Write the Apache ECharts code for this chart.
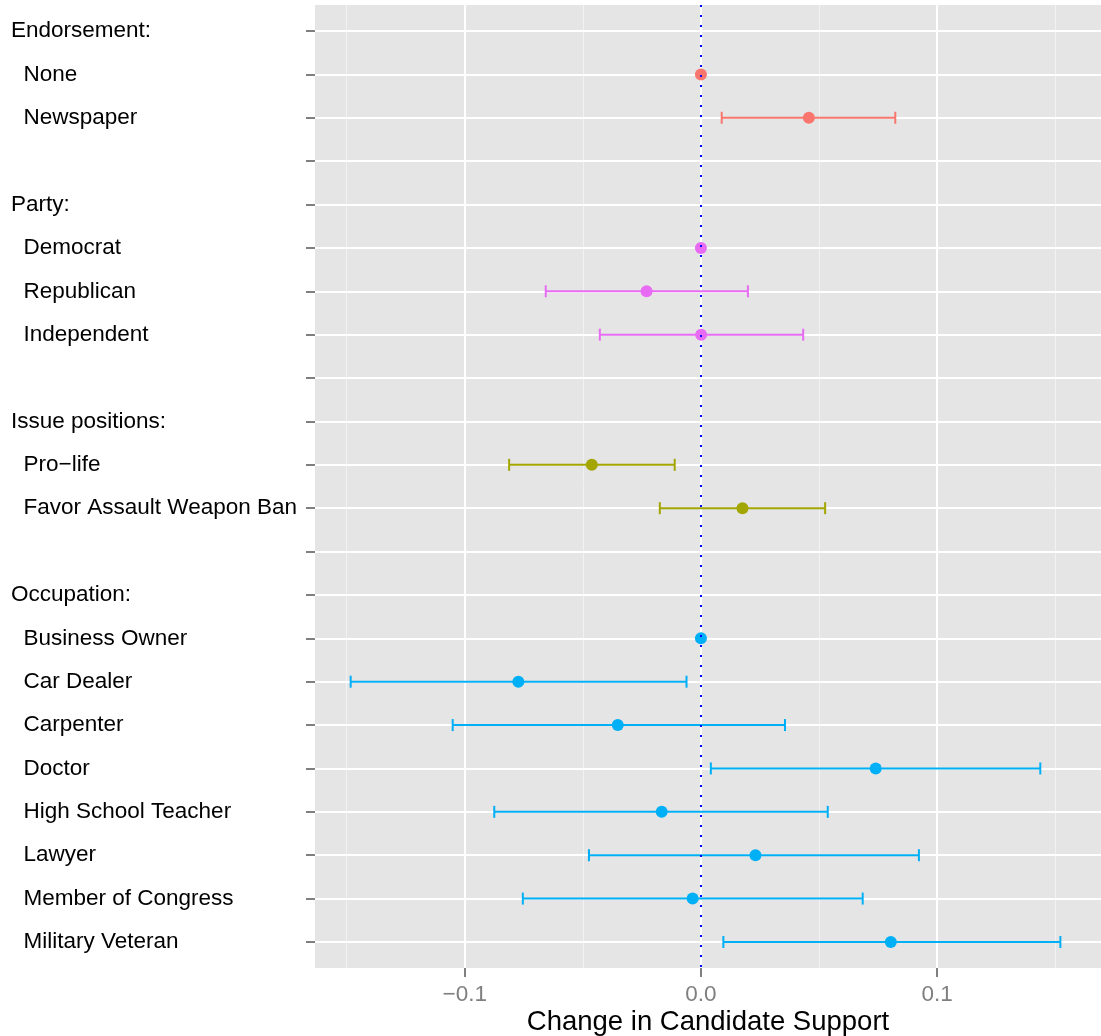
<!DOCTYPE html>
<html>
<head>
<meta charset="utf-8">
<script src="https://cdn.jsdelivr.net/npm/echarts@6/dist/echarts.min.js"></script>
<style>
html,body{margin:0;padding:0;background:#fff;}
#chart{width:1101px;height:1036px;}
</style>
</head>
<body>
<div id="chart"></div>
<script>
// ---- data ----
const categories = ["Endorsement:", "  None", "  Newspaper", "", "Party:", "  Democrat", "  Republican", "  Independent", "", "Issue positions:", "  Pro\u2212life", "  Favor Assault Weapon Ban", "", "Occupation:", "  Business Owner", "  Car Dealer", "  Carpenter", "  Doctor", "  High School Teacher", "  Lawyer", "  Member of Congress", "  Military Veteran"];
const estimate = [null, 0, 0.0457, null, null, 0, -0.0230, 0.0001, null, null, -0.0462, 0.0176, null, null, 0, -0.0773, -0.0352, 0.0740, -0.0166, 0.0231, -0.0035, 0.0804];
const lower = [null, null, 0.0088, null, null, null, -0.0657, -0.0428, null, null, -0.0812, -0.0174, null, null, null, -0.1483, -0.1051, 0.0042, -0.0875, -0.0474, -0.0754, 0.0095];
const upper = [null, null, 0.0823, null, null, null, 0.0199, 0.0433, null, null, -0.0111, 0.0526, null, null, null, -0.0061, 0.0356, 0.1437, 0.0537, 0.0923, 0.0685, 0.1522];
const group = [0,0,0,0,1,1,1,1,1,2,2,2,2,3,3,3,3,3,3,3,3,3];
const xTicks = [-0.1, 0, 0.1];
const xMinor = [-0.15, -0.05, 0.05, 0.15];

const groupColors = ['#F8766D', '#E76BF3', '#A3A500', '#00B0F6'];
const FONT = 'Liberation Sans, Arial, Helvetica, sans-serif';

const rowIdx = categories.map((_, i) => i);

const pointData = [];
const barData = [];
estimate.forEach((v, i) => {
  if (v === null) return;
  pointData.push({ value: [v, i], itemStyle: { color: groupColors[group[i]], opacity: 1 } });
  if (lower[i] !== null) barData.push([lower[i], upper[i], i, group[i]]);
});

const gridLines = [];
xMinor.forEach(v => gridLines.push({ xAxis: v, lineStyle: { color: '#F2F2F2', width: 1, type: 'solid' } }));
xTicks.forEach(v => gridLines.push({ xAxis: v, lineStyle: { color: '#FFFFFF', width: 2, type: 'solid' } }));
rowIdx.forEach(i => gridLines.push({ yAxis: i, lineStyle: { color: '#FFFFFF', width: 2, type: 'solid' } }));

const chart = echarts.init(document.getElementById('chart'), null, { renderer: 'canvas' });
chart.setOption({
  animation: false,
  backgroundColor: '#FFFFFF',
  grid: {
    left: 315, right: 0, top: 5, bottom: 68, show: true, backgroundColor: '#E5E5E5', borderWidth: 0,
    containLabel: false, outerBoundsMode: 'none'
  },
  xAxis: {
    type: 'value', min: -0.1634, max: 0.1694,
    axisLine: { show: true, onZero: false, lineStyle: { color: 'rgba(0,0,0,0)', width: 0 } },
    splitLine: { show: false },
    axisTick: { show: true, inside: false, length: 9, lineStyle: { color: '#7F7F7F', width: 2 }, customValues: xTicks },
    axisLabel: {
      customValues: xTicks, margin: 15, color: '#7F7F7F', fontSize: 22.5, fontFamily: FONT,
      formatter: v => (v < 0 ? '\u2212' : '') + Math.abs(v).toFixed(1)
    },
    name: 'Change in Candidate Support', nameLocation: 'middle', nameGap: 40, nameMoveOverlap: false,
    nameTextStyle: { color: '#000', fontSize: 27.5, fontFamily: FONT }
  },
  yAxis: {
    type: 'value', min: -0.6, max: 21.6, inverse: true,
    axisLine: { show: true, onZero: false, lineStyle: { color: 'rgba(0,0,0,0)', width: 0 } },
    splitLine: { show: false },
    axisTick: { show: true, inside: false, length: 9, lineStyle: { color: '#7F7F7F', width: 2 }, customValues: rowIdx },
    axisLabel: {
      customValues: rowIdx, align: 'left', margin: 304, color: '#000', fontSize: 22.5, fontFamily: FONT,
      formatter: v => categories[Math.round(v)]
    }
  },
  series: [
    {
      type: 'scatter', data: [], z: 1, silent: true,
      markLine: { silent: true, z: 1, symbol: 'none', label: { show: false }, animation: false, data: gridLines }
    },
    {
      type: 'custom', z: 3, silent: true,
      data: barData,
      renderItem: function (params, api) {
        const lo = api.coord([api.value(0), api.value(2)]);
        const hi = api.coord([api.value(1), api.value(2)]);
        const color = groupColors[api.value(3)];
        const h = 6;
        const style = { stroke: color, lineWidth: 2 };
        return {
          type: 'group',
          children: [
            { type: 'line', shape: { x1: lo[0], y1: lo[1], x2: hi[0], y2: hi[1] }, style: style },
            { type: 'line', shape: { x1: lo[0], y1: lo[1] - h, x2: lo[0], y2: lo[1] + h }, style: style },
            { type: 'line', shape: { x1: hi[0], y1: hi[1] - h, x2: hi[0], y2: hi[1] + h }, style: style }
          ]
        };
      }
    },
    {
      type: 'scatter', z: 4, silent: true, symbol: 'circle', symbolSize: 12,
      itemStyle: { opacity: 1 },
      data: pointData
    },
    {
      type: 'scatter', data: [], z: 10, silent: true,
      markLine: {
        silent: true, z: 10, symbol: 'none', label: { show: false }, animation: false,
        data: [{ xAxis: 0, lineStyle: { color: '#0000FF', width: 2, type: [2, 8] } }]
      }
    }
  ]
});
</script>
</body>
</html>
